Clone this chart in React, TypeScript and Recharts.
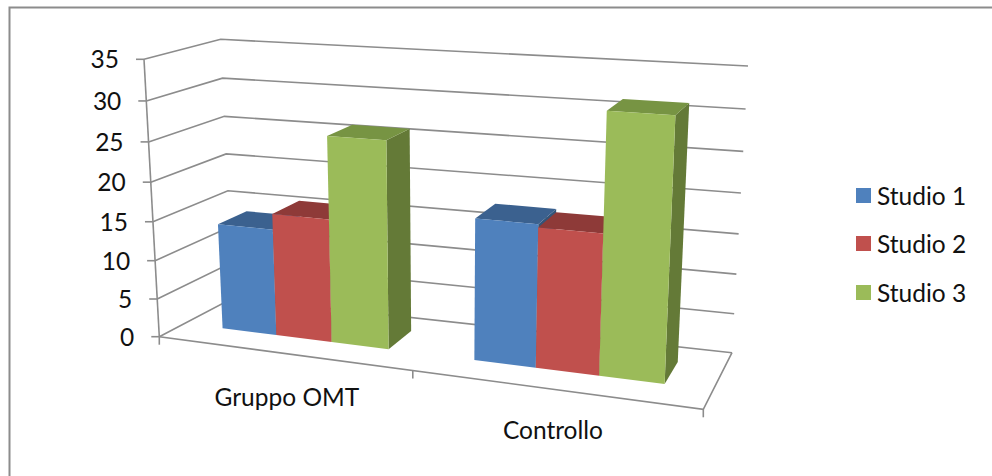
import React from 'react';
import { BarChart, Bar, XAxis, YAxis, CartesianGrid, Legend, Customized } from 'recharts';

// Chart data
const categories = ['Gruppo OMT', 'Controllo'];
const studio1 = [13.8, 17.6];
const studio2 = [15.8, 17.2];
const studio3 = [26.1, 31.3];
const yTicks = [0, 5, 10, 15, 20, 25, 30, 35];
const rows = categories.map((name, i) => ({
  name,
  'Studio 1': studio1[i],
  'Studio 2': studio2[i],
  'Studio 3': studio3[i],
}));

const W = 992;
const H = 476;
const PLOT = { left: 100, top: 50, width: 792, height: 366 };
const MAX_V = 35;
const FONT = 'Lato, Carlito, Calibri, sans-serif';
const FONT_SIZE = 24.5;
const INK = '#111111';
const RULE = '#8c8c8c';

// Corners of the 3D box on screen: [front/back][left/right][floor/ceiling]
type Pt = [number, number];
const FLB: Pt = [159.3, 336.7];
const FLT: Pt = [144, 59.3];
const FRB: Pt = [703.3, 409.3];
const FRT: Pt = [717.5, 94];
const BLB: Pt = [233, 298];
const BLT: Pt = [220.7, 39.3];
const BRB: Pt = [732, 352.7];
const BRT: Pt = [748, 66];
const PERSPECTIVE_X = 1.146;
const PERSPECTIVE_Y = 1.06;
const BAR_NEAR = 0.34;
const BAR_FAR = 0.74;

const mix = (a: Pt, b: Pt, t: number): Pt => [a[0] + (b[0] - a[0]) * t, a[1] + (b[1] - a[1]) * t];
const foreshorten = (x: number, k: number) => x / (k + (1 - k) * x);

// s: 0..1 along the categories, v: value, w: 0 front .. 1 back
function project(s: number, v: number, w: number): Pt {
  const u = foreshorten(s, PERSPECTIVE_X);
  const t = foreshorten(v / MAX_V, PERSPECTIVE_Y);
  const front = mix(mix(FLB, FRB, u), mix(FLT, FRT, u), t);
  const back = mix(mix(BLB, BRB, u), mix(BLT, BRT, u), t);
  return mix(front, back, w);
}

const poly = (pts: Pt[]) => pts.map((p) => `${p[0].toFixed(2)},${p[1].toFixed(2)}`).join(' ');
const plotS = (x: number) => (x - PLOT.left) / PLOT.width;
const plotV = (y: number) => ((PLOT.top + PLOT.height - y) / PLOT.height) * MAX_V;

function makeBox(topColor: string, sideColor: string) {
  return function Box(props: any) {
    const { x, y, width, height, fill } = props;
    const s0 = plotS(x);
    const s1 = plotS(x + width);
    const v = plotV(y);
    const v0 = plotV(y + height);
    const f = (s: number, val: number, w: number) => project(s, val, w);
    return (
      <g>
        <polygon points={poly([f(s1, v0, BAR_NEAR), f(s1, v0, BAR_FAR), f(s1, v, BAR_FAR), f(s1, v, BAR_NEAR)])} fill={sideColor} />
        <polygon points={poly([f(s0, v, BAR_NEAR), f(s1, v, BAR_NEAR), f(s1, v, BAR_FAR), f(s0, v, BAR_FAR)])} fill={topColor} />
        <polygon points={poly([f(s0, v0, BAR_NEAR), f(s1, v0, BAR_NEAR), f(s1, v, BAR_NEAR), f(s0, v, BAR_NEAR)])} fill={fill} />
      </g>
    );
  };
}

// Wall and floor gridline for one value level
function WallLine(props: any) {
  const v = plotV(props.y1);
  const pts = [project(0, v, 0), project(0, v, 1), project(1, v, 1)];
  return <polyline points={poly(pts)} fill="none" stroke={RULE} strokeWidth={1.6} />;
}

// Page frame, floor front edge and the upright axis
function Skeleton() {
  const floor = [project(0, 0, 0), project(1, 0, 0), project(1, 0, 1)];
  const upright = [project(0, 0, 0), project(0, MAX_V, 0)];
  return (
    <g>
      <path d={`M9.5 ${H} V7.5 H${W}`} fill="none" stroke={RULE} strokeWidth={2} />
      <polyline points={poly(floor)} fill="none" stroke={RULE} strokeWidth={1.6} />
      <polyline points={poly(upright)} fill="none" stroke={RULE} strokeWidth={1.6} />
      {[0, 0.5, 1].map((s) => {
        const p = project(s, 0, 0);
        return <line key={s} x1={p[0]} y1={p[1]} x2={p[0]} y2={p[1] + 8} stroke={RULE} strokeWidth={1.6} />;
      })}
    </g>
  );
}

function ValueTick(props: any) {
  const v = Number(props.payload.value);
  const p = project(0, v, 0);
  return (
    <g>
      <line x1={p[0] - 8} y1={p[1]} x2={p[0]} y2={p[1]} stroke={RULE} strokeWidth={1.6} />
      <text x={p[0] - 25} y={p[1] + 9} textAnchor="end" fontFamily={FONT} fontSize={FONT_SIZE} fill={INK}>
        {v}
      </text>
    </g>
  );
}

function CategoryTick(props: any) {
  const s = plotS(props.x);
  const p = project(s, 0, 0);
  // Labels hang below the front edge, a little less steeply than the edge itself
  return (
    <text x={p[0] + (0.75 - s) * 10} y={p[1] + 52.5 - (s - 0.25) * 6} textAnchor="middle" fontFamily={FONT} fontSize={FONT_SIZE} fill={INK}>
      {props.payload.value}
    </text>
  );
}

function Key(props: any) {
  return (
    <div style={{ position: 'absolute', left: 856, top: 171 }}>
      {props.payload.map((e: any) => (
        <div key={e.value} style={{ display: 'flex', alignItems: 'center', height: 48.5, fontFamily: FONT, fontSize: FONT_SIZE, color: INK, whiteSpace: 'nowrap' }}>
          <span style={{ width: 15, height: 15, background: e.color, marginRight: 6 }} />
          {e.value}
        </div>
      ))}
    </div>
  );
}

export default function App() {
  return (
    <div style={{ position: 'absolute', left: 0, top: 0, width: W, height: H, background: '#fff' }}>
      <BarChart
        width={W}
        height={H}
        data={rows}
        margin={{ left: PLOT.left - 1, top: PLOT.top, right: W - PLOT.left - PLOT.width, bottom: H - PLOT.top - PLOT.height - 1 }}
        barCategoryGap="16.4%"
        barGap={0}
      >
        <CartesianGrid vertical={false} horizontal={(p: any) => <WallLine key={p.index} {...p} />} />
        <Customized component={Skeleton} />
        <XAxis dataKey="name" height={1} axisLine={false} tickLine={false} tick={CategoryTick} interval={0} />
        <YAxis domain={[0, MAX_V]} ticks={yTicks} width={1} axisLine={false} tickLine={false} tick={ValueTick} interval={0} />
        <Legend content={Key} wrapperStyle={{ left: 0, top: 0, bottom: 'auto', right: 'auto' }} />
        <Bar dataKey="Studio 1" fill="#4F81BD" isAnimationActive={false} shape={makeBox('#3B618F', '#345478')} />
        <Bar dataKey="Studio 2" fill="#C0504D" isAnimationActive={false} shape={makeBox('#8E3A38', '#7A3230')} />
        <Bar dataKey="Studio 3" fill="#9BBB59" isAnimationActive={false} shape={makeBox('#779443', '#647A37')} />
      </BarChart>
    </div>
  );
}
